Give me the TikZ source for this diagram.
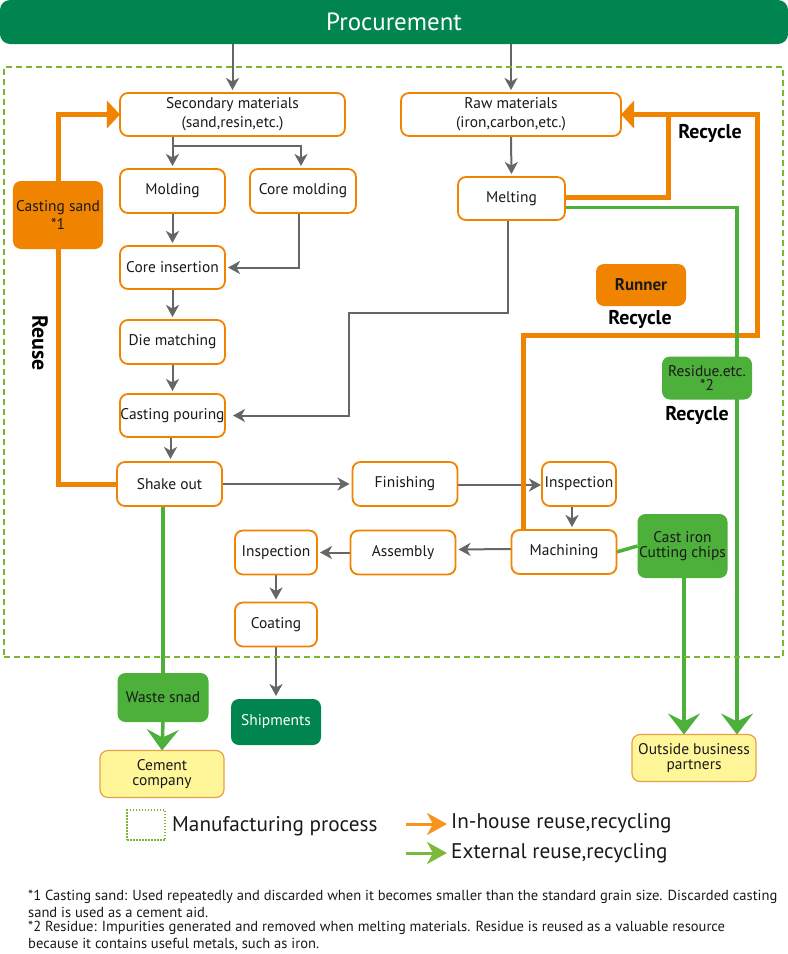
\documentclass[tikz,border=0pt]{standalone}
\usepackage{fontspec}
\setmainfont{PT Sans}
\usetikzlibrary{arrows.meta}
\pgfdeclarelayer{background}
\pgfsetlayers{background,main}
\definecolor{orng}{RGB}{240,131,0}
\definecolor{grayl}{RGB}{102,102,102}
\definecolor{grn}{RGB}{76,176,58}
\definecolor{dgrn}{RGB}{0,133,78}
\definecolor{ylw}{RGB}{255,246,153}
\definecolor{ylwb}{RGB}{232,160,70}
\definecolor{dashg}{RGB}{122,182,48}
\definecolor{legor}{RGB}{247,148,29}
\definecolor{leggr}{RGB}{125,185,58}
\definecolor{txt}{RGB}{26,26,26}
\tikzset{
  sz/.style 2 args={minimum width=#1 bp, minimum height=#2 bp},
  basebox/.style={rounded corners=8bp, inner sep=0pt, outer sep=0pt, align=center, text=txt,
    font=\fontsize{15.5}{16}\selectfont},
  procbox/.style={basebox, draw=orng, line width=1.8bp, fill=white},
  orbox/.style={basebox, fill=orng},
  grbox/.style={basebox, fill=grn},
  ylbox/.style={basebox, fill=ylw, draw=ylwb, line width=1.2bp},
  garrow/.style={draw=grayl, line width=2bp, -{Stealth[length=12bp,width=13bp,inset=3.5bp]}, shorten >=3bp},
  oline/.style={draw=orng, line width=5bp},
  oarrow/.style={draw=orng, line width=5bp, -{Triangle[length=13bp,width=27bp]}},
  grline/.style={draw=grn, line width=3.5bp},
  grarrow/.style={draw=grn, line width=3.5bp, -{Stealth[length=21bp,width=32bp,inset=8bp]}},
  recyc/.style={font=\fontsize{20}{22}\selectfont\bfseries, text=black},
  foot/.style={anchor=west, inner sep=0pt, font=\fontsize{14.6}{15}\selectfont, text=txt},
  legtext/.style={anchor=west, inner sep=0pt, font=\fontsize{21.3}{23}\selectfont, text=txt},
}
\begin{document}
\begin{tikzpicture}[x=1bp,y=-1bp]
\useasboundingbox (0,0) rectangle (788,954);
% procurement bar
\node[basebox, fill=dgrn, sz={788}{44}, rounded corners=10bp, text=white, font=\fontsize{25}{26}\selectfont] (procbar) at (394,22) {Procurement};
% manufacturing frame
\node[draw=dashg, line width=2.5bp, dash pattern=on 6bp off 4bp, sz={779}{590}, inner sep=0pt] (frame) at (393.5,362) {};
% boxes
\node[procbox, sz={225}{43}, font=\fontsize{15.5}{19}\selectfont] (sec) at (232.5,114.5) {Secondary materials\\(sand,resin,etc.)};
\node[procbox, sz={220}{43}, font=\fontsize{15.5}{19}\selectfont] (raw) at (511,114.5) {Raw materials\\(iron,carbon,etc.)};
\node[procbox, sz={105}{44}] (molding) at (172.5,191) {Molding};
\node[procbox, sz={106}{44}] (coremold) at (303,191) {Core molding};
\node[procbox, sz={105}{43}] (coreins) at (172.5,267.5) {Core insertion};
\node[procbox, sz={105}{44}] (die) at (172.5,342) {Die matching};
\node[procbox, sz={105}{43}] (pour) at (172.5,415.5) {Casting pouring};
\node[procbox, sz={105}{44}] (shake) at (169.5,484) {Shake out};
\node[orbox, sz={90}{68}, font=\fontsize{15.5}{19}\selectfont] (sand) at (58,215) {Casting sand\\*1};
\node[procbox, sz={107}{43}] (melt) at (511.5,198.5) {Melting};
\node[orbox, sz={90}{42}, font=\fontsize{17}{18}\selectfont\bfseries] (runner) at (641,285) {Runner};
\node[grbox, sz={90}{43}, font=\fontsize{15.5}{14.5}\selectfont] (residue) at (707,378) {Residue.etc.\\*2};
\node[procbox, sz={105}{44}] (finish) at (405,484) {Finishing};
\node[procbox, sz={74}{44}] (insp1) at (579,484) {Inspection};
\node[procbox, sz={105}{44}] (mach) at (564,552) {Machining};
\node[grbox, sz={90}{64}, font=\fontsize{15.5}{15}\selectfont] (chips) at (682.5,546) {Cast iron\\Cutting chips};
\node[procbox, sz={105}{44}] (assem) at (403,552.5) {Assembly};
\node[procbox, sz={82}{44}] (insp2) at (276,552.5) {Inspection};
\node[procbox, sz={82}{44}] (coat) at (276,624.5) {Coating};
\node[basebox, fill=dgrn, sz={90}{46}, text=white] (ship) at (276,722) {Shipments};
\node[grbox, sz={91}{49}] (waste) at (163,697.5) {Waste snad};
\node[ylbox, sz={124}{47}, font=\fontsize{15.5}{15}\selectfont] (cement) at (162,774) {Cement\\company};
\node[ylbox, sz={124}{47}, font=\fontsize{15.5}{15}\selectfont] (outside) at (694,758) {Outside business\\partners};
% labels
\node[recyc] (rec1) at (710,133) {Recycle};
\node[recyc] (rec2) at (640,319) {Recycle};
\node[recyc] (rec3) at (697,415) {Recycle};
\node[recyc, font=\fontsize{22}{24}\selectfont\bfseries, rotate=-90] (reuse) at (40,343) {Reuse};
\begin{pgfonlayer}{background}
% gray connectors
\draw[garrow] (sec.north |- procbar.south) -- (sec.north);
\draw[garrow] (raw.north |- procbar.south) -- (raw.north);
\draw[garrow] (molding.north |- sec.south) -- (molding.north);
\draw[garrow] ([yshift=-10bp]molding.north |- sec.south) -| ([xshift=-2bp]coremold.north);
\draw[garrow] (molding.south) -- (coreins.north);
\draw[garrow] ([xshift=-4bp]coremold.south) |- (coreins.east);
\draw[garrow] (coreins.south) -- (die.north);
\draw[garrow] (die.south) -- (pour.north);
\draw[garrow] ([xshift=-2bp]pour.south) -- ([xshift=-2bp]pour.south |- shake.north);
\draw[garrow] (raw.south) -- (melt.north);
\coordinate (mbend) at (349,313);
\draw[garrow, shorten >=8bp] ([xshift=-4bp]melt.south) |- (mbend) |- (pour.east);
\draw[garrow] (shake.east) -- (finish.west);
\draw[garrow, shorten >=1bp] ([yshift=-1bp]finish.east) -- ([yshift=-1bp]insp1.west);
\draw[garrow] ([xshift=-7bp]insp1.south) -- ([xshift=-7bp]insp1.south |- mach.north);
\draw[garrow] ([yshift=3bp]mach.west) -- ([yshift=3bp]assem.east);
\draw[garrow] (assem.west) -- (insp2.east);
\draw[garrow] (insp2.south) -- (coat.north);
\draw[garrow] (coat.south) -- (ship.north);
% orange connectors
\draw[oline] (shake.west) -| (sand.south);
\draw[oarrow] (sand.north) |- (sec.west);
\draw[oarrow] ([yshift=1.5bp]melt.east) -| ([xshift=47bp]raw.east) -- (raw.east);
\coordinate (obend) at (757,335);
\draw[oline] ([xshift=-41bp]mach.north) |- (obend) |- ([xshift=46bp]raw.east);
% green connectors
\draw[grarrow] ([yshift=-9bp]melt.east) -| ([xshift=43bp]outside.north);
\draw[grline] (mach.east) -- (chips.west);
\draw[grarrow] ([xshift=1.5bp]chips.south) -- ([xshift=1.5bp]chips.south |- outside.north);
\draw[grline] (waste.north |- shake.south) -- (waste.north);
\draw[grarrow] (waste.south) -- (cement.north);
\end{pgfonlayer}
% legend
\node[draw=dashg, line width=1.5bp, dash pattern=on 1.5bp off 1.5bp, sz={38}{30}] (legbox) at (146,825) {};
\node[legtext] (legt1) at (172,826) {Manufacturing process};
\node[legtext] (legt2) at (451,823) {In-house reuse,recycling};
\node[legtext] (legt3) at (451,853) {External reuse,recycling};
\coordinate (lo) at (406,824);
\coordinate (lg) at (406,853);
\draw[draw=legor, line width=3bp, -{Stealth[length=20bp,width=22bp,inset=6bp]}] (lo) -- ([xshift=-4bp]legt2.west |- lo);
\draw[draw=leggr, line width=3bp, -{Stealth[length=20bp,width=22bp,inset=6bp]}] (lg) -- ([xshift=-4bp]legt3.west |- lg);
% footnotes
\node[foot] (f1) at (28,897) {*1 Casting sand: Used repeatedly and discarded when it becomes smaller than the standard grain size. Discarded casting};
\node[foot] (f2) at (28,912) {sand is used as a cement aid.};
\node[foot] (f3) at (28,928) {*2 Residue: Impurities generated and removed when melting materials. Residue is reused as a valuable resource};
\node[foot] (f4) at (28,944) {because it contains useful metals, such as iron.};
\end{tikzpicture}
\end{document}
